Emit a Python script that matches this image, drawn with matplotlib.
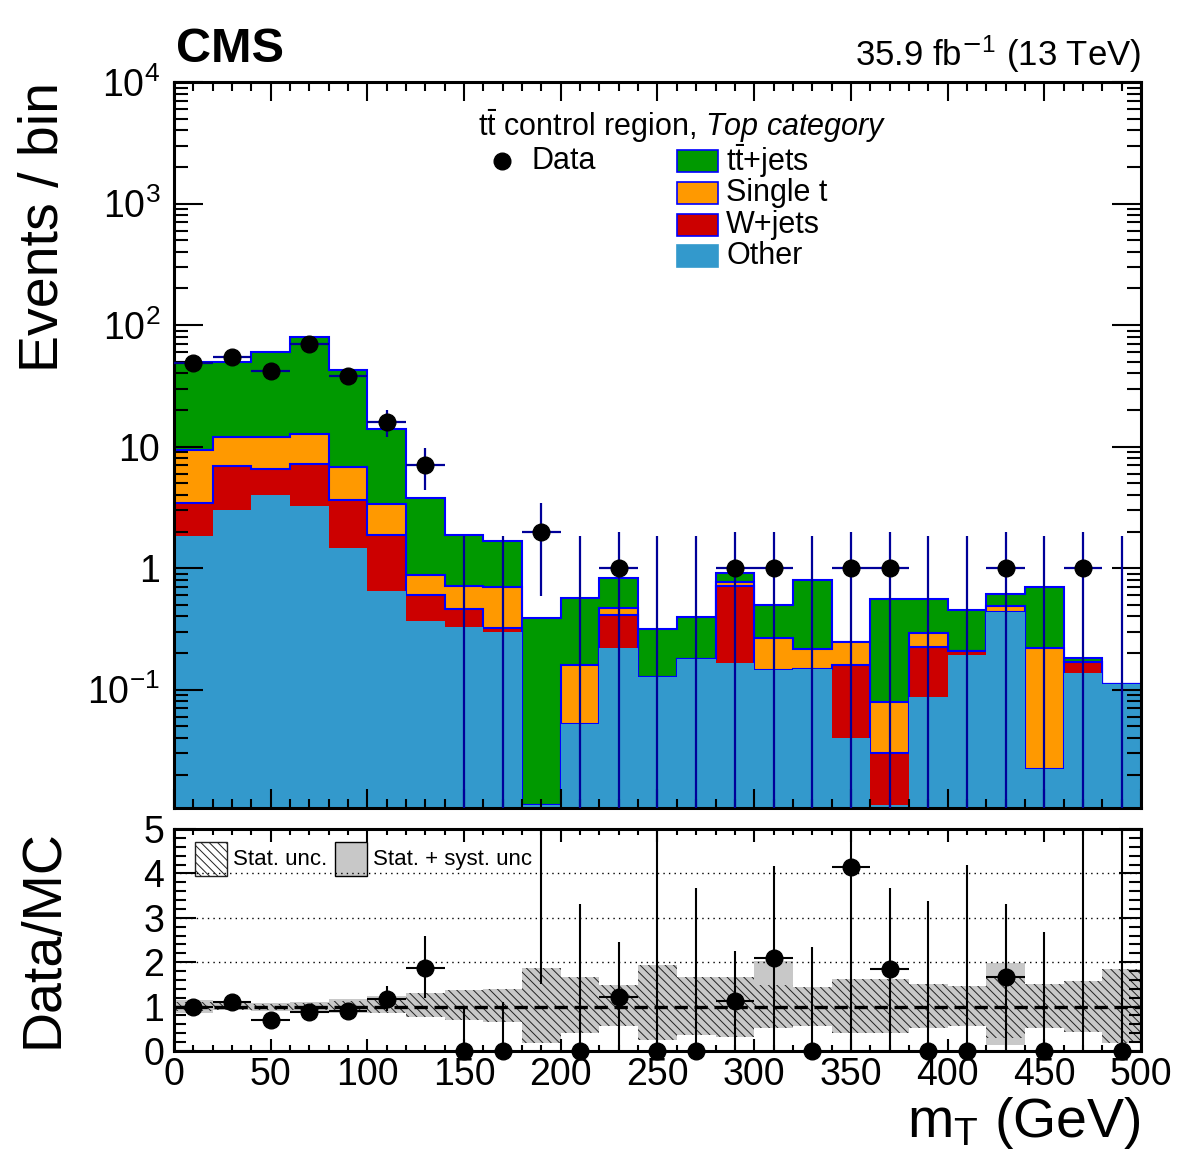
import numpy as np
import matplotlib
matplotlib.use("Agg")
import matplotlib.pyplot as plt
from matplotlib.patches import Rectangle
from matplotlib.ticker import FixedLocator, MultipleLocator, LogLocator, NullFormatter

plt.rcParams['font.family'] = ['Liberation Sans', 'DejaVu Sans']
plt.rcParams['mathtext.fontset'] = 'custom'
plt.rcParams['mathtext.rm'] = 'Liberation Sans'
plt.rcParams['mathtext.it'] = 'Liberation Sans:italic'
plt.rcParams['mathtext.bf'] = 'Liberation Sans:bold'
plt.rcParams['hatch.linewidth'] = 0.7

# binning (GeV)
edges = np.arange(0, 520, 20)
centers = edges[:-1] + 10

# observed events per bin
data = [49, 55, 42, 70, 38, 16, 7, 0, 0, 2, 0, 1, 0, 0, 1, 1, 0, 1, 1, 0, 0, 1, 0, 1, 0]

# background yields per process
other = [1.84, 3.0, 3.96, 3.26, 1.45, 0.65, 0.37, 0.33, 0.30, 0.0112, 0.052, 0.219, 0.127,
         0.178, 0.166, 0.145, 0.148, 0.040, 0.0112, 0.087, 0.193, 0.436, 0.022, 0.138, 0.111]
wjets = [1.59, 3.9, 2.52, 3.87, 2.16, 1.22, 0.228, 0.13, 0.022, 0, 0, 0.193, 0,
         0, 0.544, 0, 0, 0.120, 0.019, 0.139, 0.015, 0, 0, 0.032, 0]
single_t = [5.87, 5.2, 5.42, 5.57, 3.16, 1.47, 0.275, 0.253, 0.378, 0, 0.108, 0.061, 0,
            0, 0.065, 0.120, 0.066, 0.087, 0.049, 0.069, 0, 0.047, 0.196, 0, 0]
ttjets = [40.1, 37.3, 48.5, 67.1, 35.6, 10.7, 2.93, 1.15, 0.97, 0.376, 0.408, 0.357, 0.187,
          0.221, 0.131, 0.229, 0.590, 0, 0.482, 0.266, 0.245, 0.134, 0.482, 0.012, 0]

# upper error used for empty bins
zero_err_up = 1.84

# ratio panel
ratio = [0.986, 1.113, 0.70, 0.88, 0.91, 1.174, 1.88, 0, 0, 5.17, 0, 1.226, 0, 0, 1.129,
         2.09, 0, 4.15, 1.85, 0, 0, 1.665, 0, 5.5, 0]
ratio_up = [1.13, 1.27, 0.81, 1.0, 1.05, 1.47, 2.6, 1.02, 1.11, 8.8, 3.31, 2.46, 5.86, 3.68,
            2.26, 4.17, 2.34, 6.5, 3.68, 3.39, 4.18, 3.32, 2.68, 11.0, 16.6]
ratio_down = [0.85, 0.96, 0.59, 0.77, 0.77, 0.89, 1.19, 0, 0, 1.51, 0, 0, 0, 0, 0,
              0, 0, 0, 0, 0, 0, 0, 0, 0, 0]
tot_hi = [1.14, 1.11, 1.09, 1.11, 1.17, 1.23, 1.30, 1.38, 1.40, 1.87, 1.66, 1.49, 1.94,
          1.66, 1.66, 2.02, 1.45, 1.62, 1.62, 1.51, 1.47, 1.98, 1.51, 1.57, 1.85]
tot_lo = [0.86, 0.92, 0.91, 0.89, 0.86, 0.85, 0.76, 0.70, 0.65, 0.17, 0.41, 0.56, 0.25,
          0.36, 0.32, 0.51, 0.56, 0.40, 0.40, 0.51, 0.57, 0.13, 0.51, 0.43, 0.19]
stat_hi = [1.10, 1.08, 1.07, 1.08, 1.12, 1.18, 1.30, 1.38, 1.40, 1.87, 1.66, 1.49, 1.94,
           1.66, 1.66, 1.49, 1.45, 1.62, 1.62, 1.51, 1.47, 1.65, 1.51, 1.57, 1.85]
stat_lo = [0.90, 0.93, 0.93, 0.92, 0.88, 0.86, 0.76, 0.70, 0.65, 0.17, 0.41, 0.56, 0.25,
           0.36, 0.32, 0.51, 0.56, 0.40, 0.40, 0.51, 0.57, 0.30, 0.51, 0.43, 0.19]

c_tt, c_st, c_w, c_oth = '#009900', '#ff9900', '#cc0000', '#3399cc'
c_line = '#0000ff'
c_err = '#000099'
ymin = 0.0106

fig = plt.figure(figsize=(11.82, 11.67), dpi=100)
ax = fig.add_axes([0.1472, 0.3076, 0.8181, 0.6221])
ax2 = fig.add_axes([0.1472, 0.0994, 0.8181, 0.1902])

# stacked histogram
cum_oth = np.array(other)
cum_w = cum_oth + np.array(wjets)
cum_st = cum_w + np.array(single_t)
cum_tt = cum_st + np.array(ttjets)

ax.stairs(cum_tt, edges, baseline=ymin, fill=True, color=c_tt, lw=0)
ax.stairs(cum_tt, edges, baseline=ymin, color=c_line, lw=1.5)
ax.stairs(cum_st, edges, baseline=ymin, fill=True, color=c_st, lw=0)
ax.stairs(cum_st, edges, baseline=ymin, color=c_line, lw=1.5)
ax.stairs(cum_w, edges, baseline=ymin, fill=True, color=c_w, lw=0)
ax.stairs(cum_w, edges, baseline=ymin, color=c_line, lw=1.5)
ax.stairs(cum_oth, edges, baseline=ymin, fill=True, color=c_oth, lw=0)

# data with errors
for x, n in zip(centers, data):
    if n > 0:
        lo = max(n - np.sqrt(n), ymin)
        ax.vlines(x, lo, n + np.sqrt(n), color=c_err, lw=1.6, zorder=5)
        ax.hlines(n, x - 10, x + 10, color=c_err, lw=1.6, zorder=5)
    else:
        ax.vlines(x, ymin, zero_err_up, color=c_err, lw=1.6, zorder=5)
d = np.array(data, dtype=float)
ax.plot(centers[d > 0], d[d > 0], 'o', color='k', ms=12, zorder=6)

ax.set_yscale('log')
ax.set_xlim(0, 500)
ax.set_ylim(ymin, 1e4)
ax.yaxis.set_major_locator(FixedLocator([0.1, 1, 10, 100, 1000, 10000]))
ax.set_yticklabels([r'$10^{-1}$', '1', '10', r'$10^{2}$', r'$10^{3}$', r'$10^{4}$'])
ax.yaxis.set_minor_locator(LogLocator(base=10, subs=np.arange(2, 10)))
ax.yaxis.set_minor_formatter(NullFormatter())
ax.xaxis.set_major_locator(MultipleLocator(50))
ax.xaxis.set_minor_locator(MultipleLocator(10))
ax.tick_params(which='both', direction='in', top=True, right=True, labelbottom=False,
               width=1.5, labelsize=27)
ax.tick_params(axis='x', which='major', length=13.5)
ax.tick_params(axis='x', which='minor', length=6.5)
ax.tick_params(axis='y', which='major', length=21, pad=10)
ax.tick_params(axis='y', which='minor', length=10)
for s in ax.spines.values():
    s.set_linewidth(2.2)
ax.set_ylabel('Events / bin', fontsize=40, loc='top')
ax.yaxis.set_label_coords(-0.108, 1.0)

# legend
ax.text(0.526, 0.939, r'$\mathrm{t\bar{t}}$ control region, $\mathit{Top\ category}$',
        transform=ax.transAxes, ha='center', va='center', fontsize=22)
ax.plot([0.339], [0.891], 'o', color='k', ms=12, transform=ax.transAxes, clip_on=False)
ax.text(0.370, 0.891, 'Data', transform=ax.transAxes, va='center', fontsize=22)
leg = [(r'$\mathrm{t\bar{t}}$+jets', c_tt, True), ('Single t', c_st, True),
       ('W+jets', c_w, True), ('Other', c_oth, False)]
for i, (lab, col, edge) in enumerate(leg):
    yc = 0.891 - i * 0.0437
    ax.add_patch(Rectangle((0.520, yc - 0.0152), 0.0424, 0.0303, transform=ax.transAxes,
                           facecolor=col, edgecolor=c_line if edge else col, lw=1.2))
    ax.text(0.571, yc, lab, transform=ax.transAxes, va='center', fontsize=22)

# ratio panel
ax2.stairs(tot_hi, edges, baseline=tot_lo, fill=True, color='#c8c8c8', lw=0)
ax2.stairs(stat_hi, edges, baseline=stat_lo, fill=True, facecolor='none',
           edgecolor='#222222', hatch='\\\\\\\\', lw=0)
ax2.axhline(1, color='k', ls=(0, (4, 2)), lw=2.4)
for yv in [2, 3, 4]:
    ax2.axhline(yv, color='k', ls=(0, (1, 3)), lw=1.0)

r = np.array(ratio)
for x, rv, up, dn in zip(centers, ratio, ratio_up, ratio_down):
    ax2.vlines(x, dn, up, color='k', lw=1.5, zorder=5)
    if 0 < rv <= 5:
        ax2.hlines(rv, x - 10, x + 10, color='k', lw=1.5, zorder=5)
vis = r <= 5
ax2.plot(centers[vis], r[vis], 'o', color='k', ms=12, zorder=6, clip_on=False)

ax2.set_xlim(0, 500)
ax2.set_ylim(0, 5)
ax2.xaxis.set_major_locator(MultipleLocator(50))
ax2.xaxis.set_minor_locator(MultipleLocator(10))
ax2.yaxis.set_major_locator(MultipleLocator(1))
ax2.yaxis.set_minor_locator(MultipleLocator(0.2))
ax2.tick_params(which='both', direction='in', top=True, right=True, width=1.5, labelsize=27)
ax2.tick_params(axis='x', which='major', length=9, pad=4)
ax2.tick_params(axis='x', which='minor', length=4)
ax2.tick_params(axis='y', which='major', length=16, pad=7)
ax2.tick_params(axis='y', which='minor', length=8.5)
for s in ax2.spines.values():
    s.set_linewidth(2.2)
ax2.set_ylabel('Data/MC', fontsize=40, loc='top')
ax2.yaxis.set_label_coords(-0.108, 1.0)
ax2.set_xlabel(r'm$_{\mathrm{T}}$ (GeV)', fontsize=40, loc='right')
ax2.xaxis.set_label_coords(1.0, -0.2)

ax2.add_patch(Rectangle((0.0217, 0.788), 0.0331, 0.153, transform=ax2.transAxes,
                        facecolor='white', edgecolor='#222222', hatch='\\\\\\\\', lw=1.0))
ax2.text(0.061, 0.865, 'Stat. unc.', transform=ax2.transAxes, va='center', fontsize=16)
ax2.add_patch(Rectangle((0.1665, 0.788), 0.0331, 0.153, transform=ax2.transAxes,
                        facecolor='#c8c8c8', edgecolor='k', lw=1.0))
ax2.text(0.2058, 0.865, 'Stat. + syst. unc', transform=ax2.transAxes, va='center', fontsize=16)

fig.text(0.149, 0.947, 'CMS', fontsize=35, fontweight='bold', va='baseline')
fig.text(0.9653, 0.9435, r'35.9 fb$^{\mathsf{-}1}$ (13 TeV)', fontsize=25, ha='right', va='baseline')

fig.savefig('out.png', dpi=100)
